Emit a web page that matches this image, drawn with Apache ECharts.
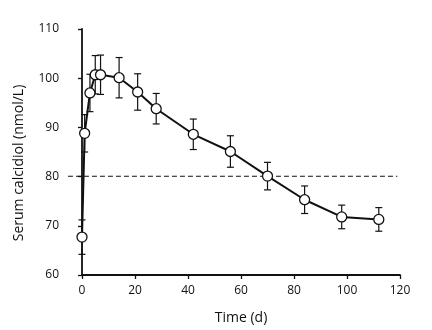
<!DOCTYPE html>
<html><head><meta charset="utf-8">
<script src="https://cdn.jsdelivr.net/npm/echarts@6/dist/echarts.min.js"></script>
<style>html,body{margin:0;padding:0;background:#fff;overflow:hidden}#c{width:432px;height:330px}</style>
</head><body><div id="c"></div>
<script>
const days = [0, 1, 3, 5, 7, 14, 21, 28, 42, 56, 70, 84, 98, 112];
const meanValues = [67.7, 88.8, 97.0, 100.7, 100.7, 100.1, 97.2, 93.8, 88.6, 85.1, 80.1, 75.3, 71.8, 71.3];
const errValues = [3.5, 3.8, 3.8, 3.9, 4.0, 4.1, 3.7, 3.1, 3.1, 3.2, 2.8, 2.8, 2.4, 2.4];
const xTicks = [0, 20, 40, 60, 80, 100, 120];
const yTicks = [60, 70, 80, 90, 100, 110];
const referenceLevel = 80.3;
const referenceSpan = [-5.3, 119];

const font = '"Open Sans", "DejaVu Sans", sans-serif';
const lineData = days.map((d, i) => [d, meanValues[i]]);
const errData = days.map((d, i) => [d, meanValues[i] - errValues[i], meanValues[i] + errValues[i]]);
const refData = referenceSpan.map(x => [x, referenceLevel]);

const chart = echarts.init(document.getElementById('c'), null, {renderer: 'canvas'});
chart.setOption({
  animation: false,
  backgroundColor: '#fff',
  grid: [
    {left: 82, right: 32, top: 29, bottom: 53},
    {left: 67, right: 32, top: 29, bottom: 53}
  ],
  xAxis: [{
    type: 'value', min: xTicks[0], max: xTicks[xTicks.length - 1], interval: 20,
    name: 'Time (d)', nameLocation: 'middle', nameGap: 36,
    nameTextStyle: {fontFamily: font, fontSize: 14, color: '#111'},
    axisLine: {lineStyle: {color: '#111', width: 1.8}},
    axisTick: {length: 4, lineStyle: {color: '#111', width: 1.3}},
    axisLabel: {fontFamily: font, fontSize: 12, color: '#111', margin: 10},
    splitLine: {show: false}
  }, {
    gridIndex: 1, type: 'value', min: -5.66, max: 120, show: false
  }],
  yAxis: [{
    type: 'value', min: yTicks[0], max: yTicks[yTicks.length - 1], interval: 10, offset: 15,
    name: 'Serum calcidiol (nmol/L)', nameLocation: 'middle', nameGap: 41,
    nameTextStyle: {fontFamily: font, fontSize: 14, color: '#111', padding: [0, 22, 0, 0]},
    axisLine: {show: true, lineStyle: {color: '#111', width: 1.8}},
    axisTick: {show: true, length: 4, lineStyle: {color: '#111', width: 1.3}},
    axisLabel: {fontFamily: font, fontSize: 12, color: '#111', margin: 8},
    splitLine: {show: false}
  }, {
    gridIndex: 1, type: 'value', min: 60, max: 110, show: false
  }],
  series: [
    {
      type: 'line', xAxisIndex: 1, yAxisIndex: 1,
      data: refData, symbol: 'none', silent: true, z: 1,
      lineStyle: {color: '#111', type: [5, 3], width: 1.1}
    },
    {
      type: 'custom',
      data: errData,
      z: 2,
      renderItem: function (params, api) {
        const x = api.value(0);
        const lo = api.coord([x, api.value(1)]);
        const hi = api.coord([x, api.value(2)]);
        const w = 3.5;
        const st = {stroke: '#111', lineWidth: 1.2};
        return {
          type: 'group',
          children: [
            {type: 'line', shape: {x1: lo[0], y1: lo[1], x2: hi[0], y2: hi[1]}, style: st},
            {type: 'line', shape: {x1: lo[0] - w, y1: lo[1], x2: lo[0] + w, y2: lo[1]}, style: st},
            {type: 'line', shape: {x1: hi[0] - w, y1: hi[1], x2: hi[0] + w, y2: hi[1]}, style: st}
          ]
        };
      }
    },
    {
      type: 'line',
      data: lineData,
      z: 3,
      symbol: 'circle', symbolSize: 10,
      lineStyle: {color: '#111', width: 2},
      itemStyle: {color: '#fff', borderColor: '#111', borderWidth: 1.3}
    }
  ]
});
</script></body></html>
